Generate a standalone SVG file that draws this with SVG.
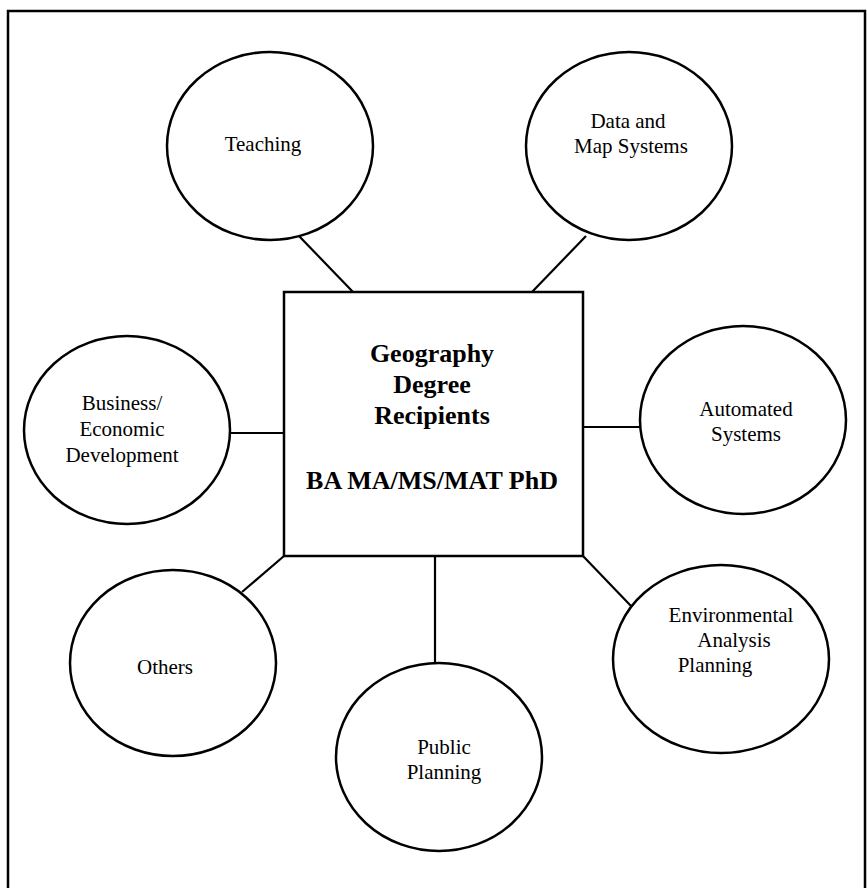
<svg xmlns="http://www.w3.org/2000/svg" width="867" height="888" viewBox="0 0 867 888">
<style>
.frame{fill:none;stroke:#000;stroke-width:2.5}
.node{fill:#fff;stroke:#000;stroke-width:2.5}
.conn{stroke:#000;stroke-width:2.2;fill:none}
.lbl{font-family:"Liberation Serif","Times New Roman",serif;font-size:21px;fill:#000;text-anchor:middle}
.ttl{font-family:"Liberation Serif","Times New Roman",serif;font-size:26px;font-weight:bold;fill:#000;text-anchor:middle}
</style>
<rect width="867" height="888" fill="#fff"/>
<rect class="frame" x="8" y="11" width="857" height="900"/>
<g id="connectors">
<line class="conn" x1="299" y1="236" x2="353" y2="292"/>
<line class="conn" x1="586" y1="236" x2="532" y2="292"/>
<line class="conn" x1="230" y1="433" x2="284" y2="433"/>
<line class="conn" x1="583" y1="427" x2="640" y2="427"/>
<line class="conn" x1="284" y1="556" x2="242" y2="592"/>
<line class="conn" x1="435" y1="556" x2="435" y2="664"/>
<line class="conn" x1="583" y1="556" x2="631" y2="606"/>
</g>
<g id="center">
<rect class="node" x="284" y="292" width="299" height="264"/>
<text class="ttl" x="432" y="362">Geography</text>
<text class="ttl" x="432" y="393">Degree</text>
<text class="ttl" x="432" y="424">Recipients</text>
<text class="ttl" x="432" y="489">BA MA/MS/MAT PhD</text>
</g>
<g id="teaching">
<ellipse class="node" cx="270" cy="146" rx="103" ry="94"/>
<text class="lbl" x="263" y="151">Teaching</text>
</g>
<g id="data-map">
<ellipse class="node" cx="629" cy="146" rx="103" ry="94"/>
<text class="lbl" x="628" y="128">Data and</text>
<text class="lbl" x="631" y="153">Map Systems</text>
</g>
<g id="business">
<ellipse class="node" cx="127" cy="430" rx="103" ry="94"/>
<text class="lbl" x="122" y="410">Business/</text>
<text class="lbl" x="122" y="436">Economic</text>
<text class="lbl" x="122" y="462">Development</text>
</g>
<g id="automated">
<ellipse class="node" cx="743" cy="420" rx="103" ry="94"/>
<text class="lbl" x="746" y="416">Automated</text>
<text class="lbl" x="746" y="441">Systems</text>
</g>
<g id="others">
<ellipse class="node" cx="173" cy="663" rx="103" ry="93"/>
<text class="lbl" x="165" y="674">Others</text>
</g>
<g id="public-planning">
<ellipse class="node" cx="439" cy="757" rx="103" ry="94"/>
<text class="lbl" x="444" y="754">Public</text>
<text class="lbl" x="444" y="779">Planning</text>
</g>
<g id="environmental">
<ellipse class="node" cx="721" cy="659" rx="108" ry="94"/>
<text class="lbl" x="731" y="622">Environmental</text>
<text class="lbl" x="734" y="647">Analysis</text>
<text class="lbl" x="715" y="672">Planning</text>
</g>
</svg>
